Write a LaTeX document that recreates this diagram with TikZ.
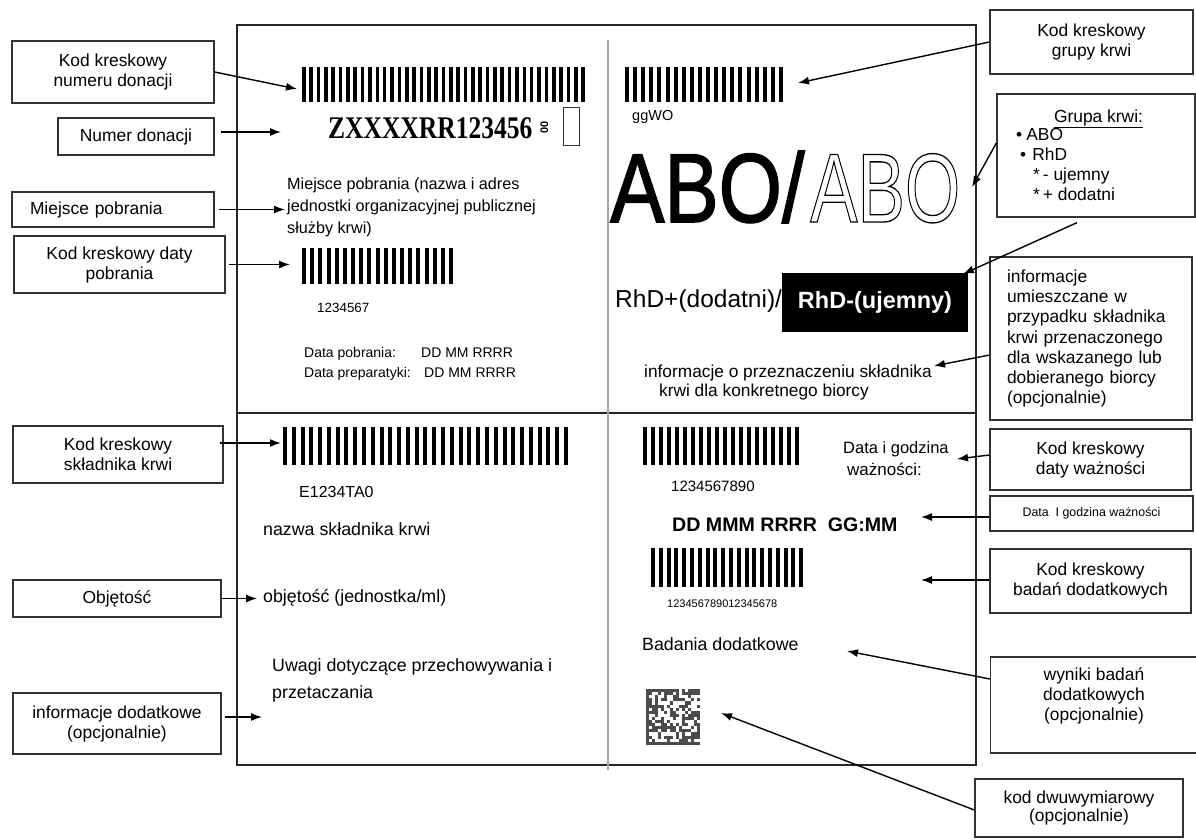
\documentclass[tikz,border=0pt]{standalone}
\usepackage{fontspec}
\setmainfont{Liberation Sans}
\newfontfamily\tnr{Liberation Serif}
\usepackage{graphicx}
\usetikzlibrary{arrows.meta,calc}
\newcommand\fsz[2]{\fontsize{#1pt}{#2pt}\selectfont}
\newcommand\barcode[6]{\foreach \i in {1,...,#3}{\fill ({#1+(\i-1)*#4},#2) rectangle ++(#5,#6);}}
\newcommand\strokedtext[2]{\special{pdf:literal direct 1 Tr #1 w}#2\special{pdf:literal direct 0 Tr}}
\newcommand\heavytext[2]{\special{pdf:literal direct 2 Tr #1 w}#2\special{pdf:literal direct 0 Tr}}
\begin{document}
\begin{tikzpicture}[x=1pt,y=-1pt,
  lbox/.style={draw=black!80,line width=1.3pt,align=center,inner sep=0pt,font=\fsz{17.4}{20}},
  arr/.style={line width=1.4pt,-{Latex[length=11pt,width=8pt]}},
  txt/.style={inner sep=0pt,anchor=base west},
  frame/.style={draw=black!85,line width=1.2pt}]
\useasboundingbox (0,0) rectangle (1196,839);
\fill[white] (0,0) rectangle (1196,839);

% label frame
\draw[frame] (237,25) rectangle (976,765);
\draw[frame] (237,413) -- (976,413);
\draw[black!35,line width=2pt] (608,40) -- (608,770);

% barcodes
\barcode{302}{67}{39}{7.35}{3.6}{35}
\barcode{302}{248}{19}{8.17}{4}{36}
\barcode{283}{427}{33}{8.78}{4}{38}
\barcode{625}{67}{20}{8.1}{4}{35}
\barcode{643}{427}{20}{8.0}{4}{38}
\barcode{651}{548}{20}{7.8}{4}{39}

% 2D code
\pgfmathsetseed{42}
\foreach \i in {0,...,17}{\foreach \j in {0,...,17}{
  \pgfmathrandominteger{\r}{0}{1}
  \pgfmathtruncatemacro\q{(\i==0||\j==17||(\j==0&&mod(\i,2)==0)||(\i==17&&mod(\j,2)==1))?1:\r}
  \ifnum\q=1 \fill[black!70] ({646+\i*3},{689+\j*3.1}) rectangle ++(3,3.1);\fi
}}

% upper left content
\node[txt,font=\tnr\bfseries\fsz{31.5}{32}] (zx) at (328,138) {\scalebox{0.81}[1]{ZXXXXRR123456}};
\node[txt,font=\bfseries\fsz{11}{11},rotate=90] (oo) at (548,134) {00};
\node[draw=black!80,line width=1pt,minimum width=16pt,minimum height=38pt,inner sep=0pt] (sq) at (571,126) {};
\node[txt,font=\fsz{16.2}{22}] (mp1) at (287,189) {Miejsce pobrania (nazwa i adres};
\node[txt,font=\fsz{16.2}{22}] (mp2) at (287,211) {jednostki organizacyjnej publicznej};
\node[txt,font=\fsz{16.2}{22}] (mp3) at (287,233) {służby krwi)};
\node[txt,font=\fsz{13.4}{14}] (n7) at (317,312) {1234567};
\node[txt,font=\fsz{14}{14}] (dp1) at (304,357) {Data pobrania:};
\node[txt,font=\fsz{14}{14}] (dp2) at (421,357) {DD MM RRRR};
\node[txt,font=\fsz{14}{14}] (dp3) at (304,377) {Data preparatyki:};
\node[txt,font=\fsz{14}{14}] (dp4) at (424,377) {DD MM RRRR};

% lower left content
\node[txt,font=\fsz{16}{16}] (e12) at (299,497) {E1234TA0};
\node[txt,font=\fsz{17.8}{18}] (nsk) at (263,535) {nazwa składnika krwi};
\node[txt,font=\fsz{17.8}{18}] (obj) at (263,602) {objętość (jednostka/ml)};
\node[txt,font=\fsz{17.8}{18}] (uw1) at (272,671) {Uwagi dotyczące przechowywania i};
\node[txt,font=\fsz{17.8}{18}] (uw2) at (272,698) {przetaczania};

% upper right content
\node[txt,font=\fsz{14.5}{15}] (gg) at (632,120) {ggWO};
\node[txt,font=\fsz{98}{98}] (abo) at (610,222) {\scalebox{0.83}[1]{\heavytext{1.6}{ABO/}}};
\node[txt,font=\fsz{98}{98}] (abow) at (810,222) {\scalebox{0.725}[1]{\strokedtext{1.3}{ABO}}};
\node[txt,font=\fsz{24.5}{25}] (rhp) at (615,307) {RhD+(dodatni)/};
\node[fill=black,minimum width=186pt,minimum height=59pt,inner sep=0pt,text=white,font=\bfseries\fsz{23.5}{24}] (rhm) at (875,302.5) {RhD-(ujemny)};
\node[txt,font=\fsz{17.3}{18}] (ip1) at (644,377) {informacje o przeznaczeniu składnika};
\node[txt,font=\fsz{17.3}{18}] (ip2) at (659,396) {krwi dla konkretnego biorcy};

% lower right content
\node[txt,font=\fsz{15}{15}] (n10) at (671,491) {1234567890};
\node[txt,font=\fsz{16.5}{17}] (dg1) at (843,453) {Data i godzina};
\node[txt,font=\fsz{17}{17}] (dg2) at (847,475) {ważności:};
\node[txt,font=\bfseries\fsz{19.6}{20}] (ddm) at (672,531) {DD MMM RRRR\ \ GG:MM};
\node[txt,font=\fsz{11}{11}] (n18) at (667,607) {123456789012345678};
\node[txt,font=\fsz{17.8}{18}] (bad) at (642,650) {Badania dodatkowe};

% left callout boxes
\node[lbox,minimum width=202pt,minimum height=62pt] (L1) at (113,72) {Kod kreskowy\\numeru donacji};
\node[lbox,minimum width=156pt,minimum height=37pt] (L2) at (136,136.5) {Numer donacji};
\node[lbox,minimum width=202pt,minimum height=35pt,text width=166pt,inner xsep=18pt,align=left] (L3) at (113,209.5) {Miejsce pobrania};
\node[lbox,minimum width=211pt,minimum height=57pt] (L4) at (119.5,264.5) {Kod kreskowy daty\\pobrania};
\node[lbox,minimum width=210pt,minimum height=57pt] (L5) at (118,454.5) {Kod kreskowy\\składnika krwi};
\node[lbox,minimum width=208pt,minimum height=37pt] (L6) at (117,598.5) {Objętość};
\node[lbox,minimum width=208pt,minimum height=61pt] (L7) at (117,723.5) {informacje dodatkowe\\(opcjonalnie)};

% right callout boxes
\node[lbox,minimum width=203pt,minimum height=64pt] (R1) at (1091.5,42) {Kod kreskowy\\grupy krwi};
\node[lbox,minimum width=198pt,minimum height=123pt] (R2) at (1096,155.5) {};
\node[txt,anchor=base,font=\fsz{17.4}{20}] (g0) at (1098.5,122) {\underline{Grupa krwi:}};
\node[txt,font=\fsz{17.4}{20}] (g1) at (1016,140) {•\hspace{4pt}ABO};
\node[txt,font=\fsz{17.4}{20}] (g2) at (1020,160) {•\hspace{6pt}RhD};
\node[txt,font=\fsz{17.4}{20}] (g3) at (1033,180) {*\,- ujemny};
\node[txt,font=\fsz{17.4}{20}] (g4) at (1033,200) {*\,+ dodatni};
\node[lbox,minimum width=202pt,minimum height=163pt,text width=168pt,inner xsep=17pt,align=left,font=\fsz{17.4}{20.2}] (R3) at (1091,338.5) {informacje\\umieszczane w\\przypadku składnika\\krwi przenaczonego\\dla wskazanego lub\\dobieranego biorcy\\(opcjonalnie)};
\node[lbox,minimum width=201pt,minimum height=61pt] (R4) at (1090.5,459.5) {Kod kreskowy\\daty ważności};
\node[lbox,minimum width=203pt,minimum height=35pt,font=\fsz{12.4}{13}] (R5) at (1091.5,513.5) {Data\ \ I godzina ważności};
\node[lbox,minimum width=201pt,minimum height=64pt] (R6) at (1090.5,581) {Kod kreskowy\\badań dodatkowych};
\node[lbox,minimum width=206pt,minimum height=96pt] (R7) at (1093.5,705) {};
\node[align=center,inner sep=0pt,font=\fsz{17.4}{20}] (wyn) at (1094,696) {wyniki badań\\dodatkowych\\(opcjonalnie)};
\node[lbox,minimum width=208pt,minimum height=58pt,font=\fsz{17.4}{18.5}] (R8) at (1079,808) {kod dwuwymiarowy\\(opcjonalnie)};

% arrow targets
\coordinate (t1) at (297,89);
\coordinate (t2) at (281,132);
\coordinate (t3) at (285,209.5);
\coordinate (t4) at (290,264.5);
\coordinate (t5) at (281,443);
\coordinate (t6) at (257,598.5);
\coordinate (t7) at (262,717);
\coordinate (u1) at (798,83);
\coordinate (u2) at (972,187);
\coordinate (u3) at (963,274);
\coordinate (u4) at (934,366);
\coordinate (u5) at (957,459);
\coordinate (u6) at (921,517);
\coordinate (u7) at (921,580);
\coordinate (u8) at (847,651);
\coordinate (u9) at (721,713);

% arrows
\draw[arr] (L1.east) -- (t1);
\draw[arr] ([xshift=6pt,yshift=4.5pt]L2.east) -- (t2);
\draw[arr] ([xshift=4pt]L3.east) -- (t3);
\draw[arr] ([xshift=3pt]L4.east) -- (t4);
\draw[arr] ([xshift=-4pt,yshift=11.5pt]L5.east) -- (t5);
\draw[arr] (L6.east) -- (t6);
\draw[arr] ([xshift=3pt,yshift=6.5pt]L7.east) -- (t7);
\draw[arr] (R1.west) -- (u1);
\draw[arr] ([yshift=12.5pt]R2.west) -- (u2);
\draw[arr] ([xshift=-19pt,yshift=-5pt]R2.south) -- (u3);
\draw[arr] ([yshift=-16.5pt]R3.west) -- (u4);
\draw[arr] ([yshift=4.5pt]R4.west) -- (u5);
\draw[arr] ([yshift=-3.5pt]R5.west) -- (u6);
\draw[arr] ([yshift=1pt]R6.west) -- (u7);
\draw[arr] ([yshift=26pt]R7.west) -- (u8);
\draw[arr] ([yshift=-2pt]R8.west) -- (u9);
\end{tikzpicture}
\end{document}
